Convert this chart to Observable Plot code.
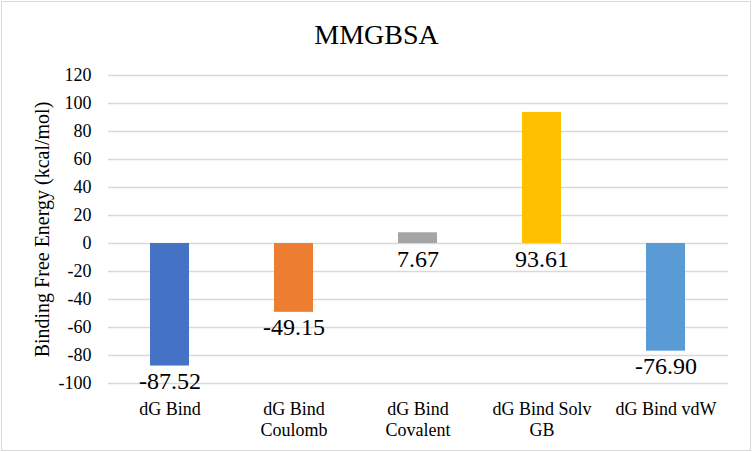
<!DOCTYPE html>
<html>
<head>
<meta charset="utf-8">
<script src="https://cdn.jsdelivr.net/npm/d3@7"></script>
<script src="https://cdn.jsdelivr.net/npm/@observablehq/plot@0.6"></script>
<style>
  html, body { margin: 0; padding: 0; background: #ffffff; }
  #chart { position: relative; width: 752px; height: 452px; overflow: hidden; }
  #chart svg text { font-family: 'Liberation Serif', 'Times New Roman', Times, serif; }
  #chart .border {
    position: absolute; left: 1px; top: 1px; width: 748px; height: 448px;
    border: 1px solid #d9d9d9; pointer-events: none;
  }
</style>
</head>
<body>
<div id="chart"><div class="border"></div></div>
<script>
// MM-GBSA energy components (kcal/mol)
const terms = ["dG Bind", "dG Bind Coulomb", "dG Bind Covalent", "dG Bind Solv GB", "dG Bind vdW"];
const tickLabels = ["dG Bind", "dG Bind\nCoulomb", "dG Bind\nCovalent", "dG Bind Solv\nGB", "dG Bind vdW"];
const energies = [-87.52, -49.15, 7.67, 93.61, -76.90];
const barColors = ["#4472C4", "#ED7D31", "#A5A5A5", "#FFC000", "#5B9BD5"];
const yTicks = [-100, -80, -60, -40, -20, 0, 20, 40, 60, 80, 100, 120];

const rows = terms.map((term, i) => ({
  term,
  label: tickLabels[i],
  value: energies[i],
  color: barColors[i]
}));

const serif = "'Liberation Serif', 'Times New Roman', Times, serif";

const chart = Plot.plot({
  width: 752,
  height: 452,
  marginTop: 75,
  marginBottom: 69,
  marginLeft: 108,
  marginRight: 24,
  style: { fontFamily: serif, background: "transparent", color: "#000" },
  x: { domain: terms, paddingInner: 0.685, paddingOuter: 0.3425, axis: null },
  y: { domain: [-100, 120], ticks: yTicks },
  marks: [
    Plot.gridY(yTicks, { stroke: "#d9d9d9", strokeOpacity: 1, strokeWidth: 1.5 }),
    Plot.axisY(yTicks, {
      tickSize: 0,
      tickPadding: 17,
      fontSize: 18,
      fontFamily: serif,
      label: null,
      tickFormat: d => String(d)
    }),
    Plot.barY(rows, { x: "term", y: "value", fill: "color" }),
    // value labels below the bar end (or below the baseline for positive bars)
    Plot.text(rows, {
      x: "term",
      y: d => Math.min(d.value, 0),
      text: d => d.value.toFixed(2),
      lineAnchor: "top",
      dy: 6,
      fontSize: 24,
      fontFamily: serif,
      fill: "#000"
    }),
    // category labels
    Plot.text(rows, {
      x: "term",
      frameAnchor: "bottom",
      text: "label",
      lineAnchor: "top",
      lineHeight: 1.2,
      dy: 16,
      fontSize: 18,
      fontFamily: serif,
      fill: "#000"
    }),
    // y-axis title
    Plot.text(["Binding Free Energy (kcal/mol)"], {
      frameAnchor: "left",
      textAnchor: "middle",
      rotate: -90,
      dx: -66,
      fontSize: 20,
      fontFamily: serif,
      fill: "#000"
    }),
    // chart title
    Plot.text(["MMGBSA"], {
      frameAnchor: "top",
      lineAnchor: "bottom",
      dx: -42,
      dy: -32,
      fontSize: 28,
      fontFamily: serif,
      fill: "#000"
    })
  ]
});

document.getElementById("chart").prepend(chart);
</script>
</body>
</html>
